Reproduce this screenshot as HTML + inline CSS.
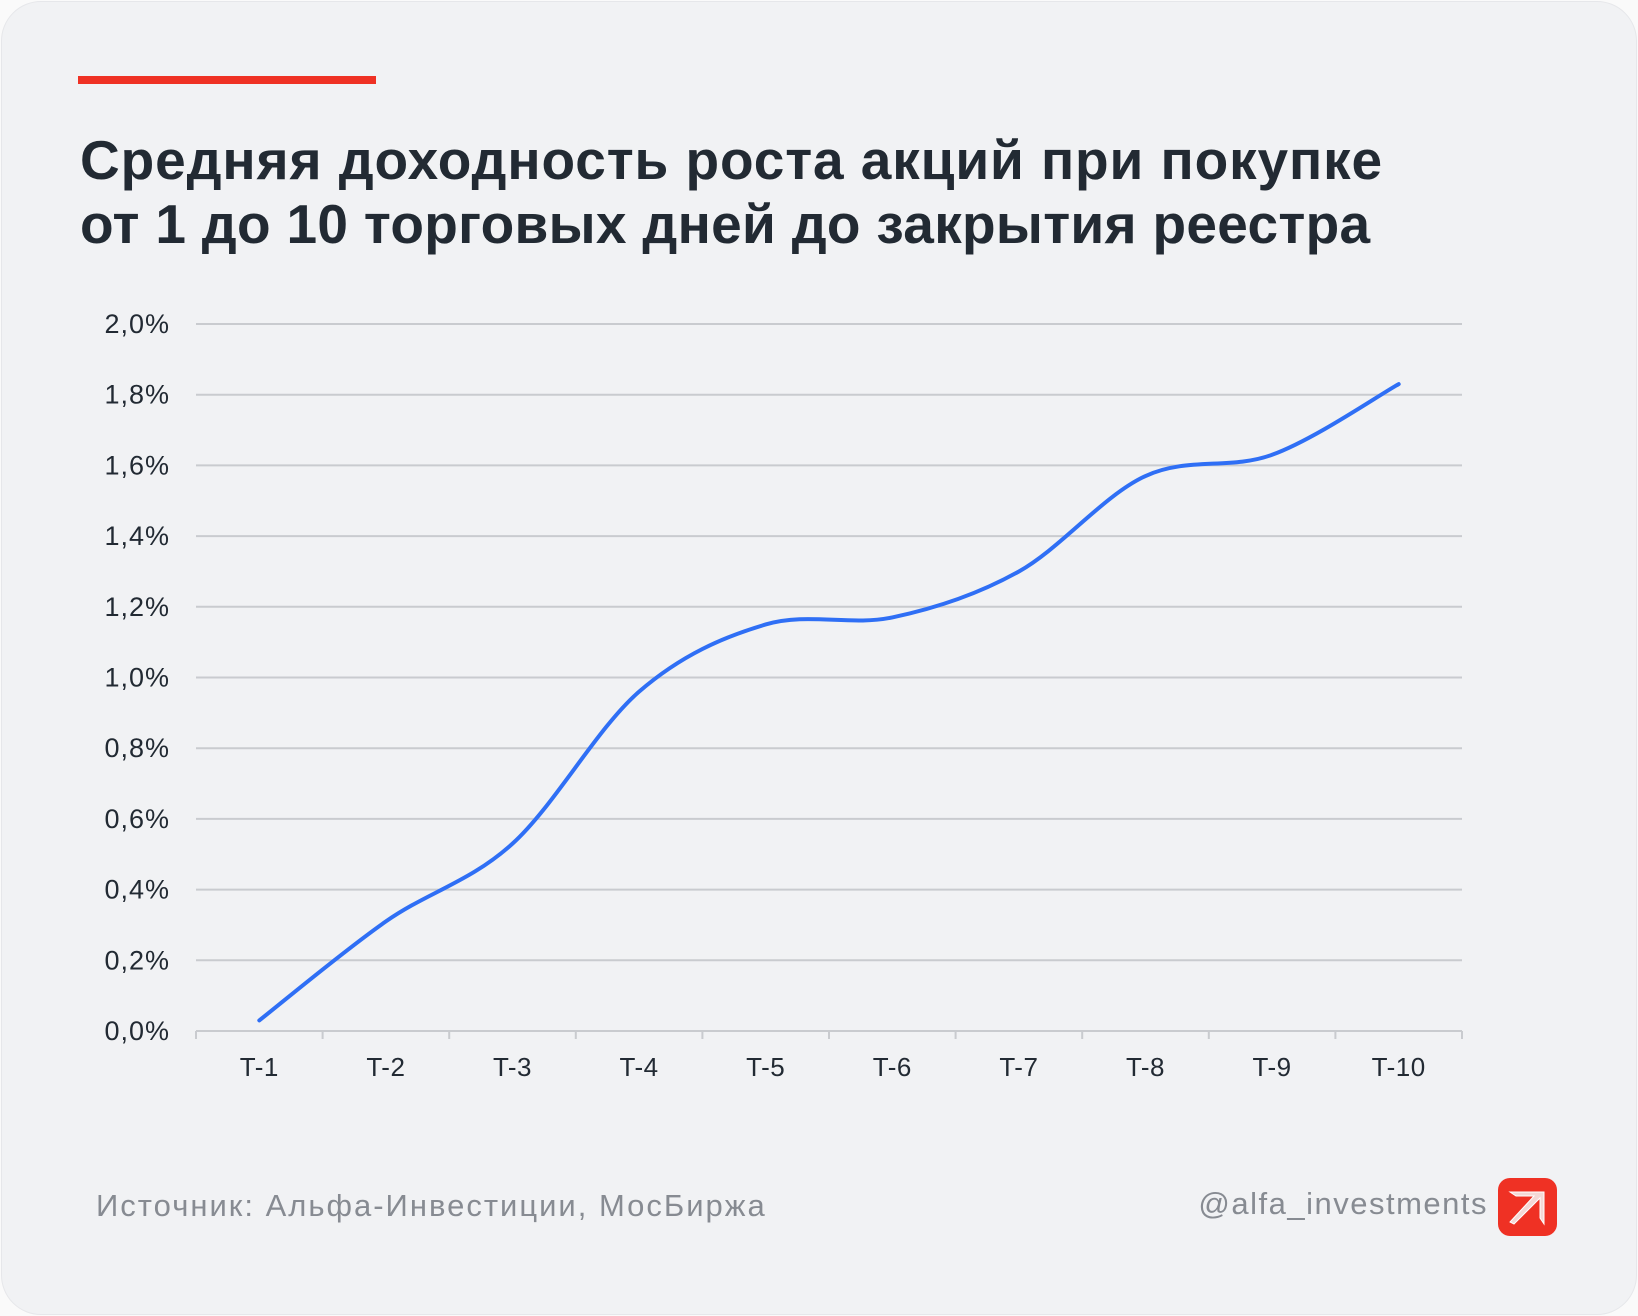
<!DOCTYPE html>
<html><head><meta charset="utf-8"><style>
html,body{margin:0;padding:0;background:#fafafa;}
body{width:1638px;height:1316px;position:relative;overflow:hidden;font-family:"Liberation Sans",sans-serif;}
.card{position:absolute;left:1px;top:1px;width:1634px;height:1312px;background:#f1f2f4;border-radius:40px;border:1px solid #e6e7ea;}
.bar{position:absolute;left:78px;top:76px;width:298px;height:8px;background:#ef3124;}
h1{position:absolute;left:80px;top:128px;margin:0;font-size:55px;line-height:64px;font-weight:bold;color:#222a33;letter-spacing:0.9px;}
h1 .l2{letter-spacing:0.3px;}
.src{position:absolute;left:96px;top:1188px;font-size:31px;color:#878b92;letter-spacing:2px;}
.handle{position:absolute;right:150px;top:1186px;font-size:31px;color:#878b92;letter-spacing:1.5px;}
.logo{position:absolute;left:1498px;top:1178px;width:59px;height:58px;background:#ef3124;border-radius:12px;}
</style></head><body>
<div class="card"></div>
<div class="bar"></div>
<h1>Средняя доходность роста акций при покупке<br><span class="l2">от 1 до 10 торговых дней до закрытия реестра</span></h1>
<div class="logo"></div>
<svg width="1638" height="1316" style="position:absolute;left:0;top:0" font-family="Liberation Sans, sans-serif">
<g id="grid" stroke="#c9cbcf" stroke-width="2"></g>
<g id="ylab" font-size="27" fill="#222a33" text-anchor="end" letter-spacing="1"></g>
<g id="xlab" font-size="26" fill="#222a33" text-anchor="middle" letter-spacing="0.5"></g>
<path id="line" fill="none" stroke="#2f6ff5" stroke-width="4" stroke-linecap="round"/>
<g transform="translate(1498,1178)">
<path d="M12 14 L46 14 L46 46 L42 40 L42 20 L16 46 L12 44 L36 18 L18 18 Z" fill="#f4d8d6" stroke="#fff" stroke-width="1"/>
</g>
</svg>
<div class="src">Источник: Альфа-Инвестиции, МосБиржа</div>
<div class="handle">@alfa_investments</div>
<script>
var ns="http://www.w3.org/2000/svg",g=document.getElementById('grid'),yl=document.getElementById('ylab'),xl=document.getElementById('xlab');
function el(p,t,a,txt){var e=document.createElementNS(ns,t);for(var k in a)e.setAttribute(k,a[k]);if(txt)e.textContent=txt;p.appendChild(e);return e;}
for(var i=0;i<=10;i++){var y=1031-i*70.7;el(g,'line',{x1:196,x2:1462,y1:y,y2:y});
el(yl,'text',{x:170,y:y+9},(i*0.2).toFixed(1).replace('.',',')+'%');}
for(var i=0;i<=10;i++){var x=196+i*126.6;el(g,'line',{x1:x,x2:x,y1:1031,y2:1039});}
var v=[0.03,0.31,0.53,0.96,1.15,1.17,1.30,1.57,1.63,1.83],P=[];
for(var i=0;i<10;i++){var x=259.3+i*126.6;P.push([x,1031-v[i]*353.5]);el(xl,'text',{x:x,y:1076},'T-'+(i+1));}
var d='M'+P[0][0]+' '+P[0][1];
for(var i=0;i<9;i++){var p0=P[Math.max(i-1,0)],p1=P[i],p2=P[i+1],p3=P[Math.min(i+2,9)];
d+=' C'+(p1[0]+(p2[0]-p0[0])/6)+' '+(p1[1]+(p2[1]-p0[1])/6)+' '+(p2[0]-(p3[0]-p1[0])/6)+' '+(p2[1]-(p3[1]-p1[1])/6)+' '+p2[0]+' '+p2[1];}
document.getElementById('line').setAttribute('d',d);
</script>
</body></html>
